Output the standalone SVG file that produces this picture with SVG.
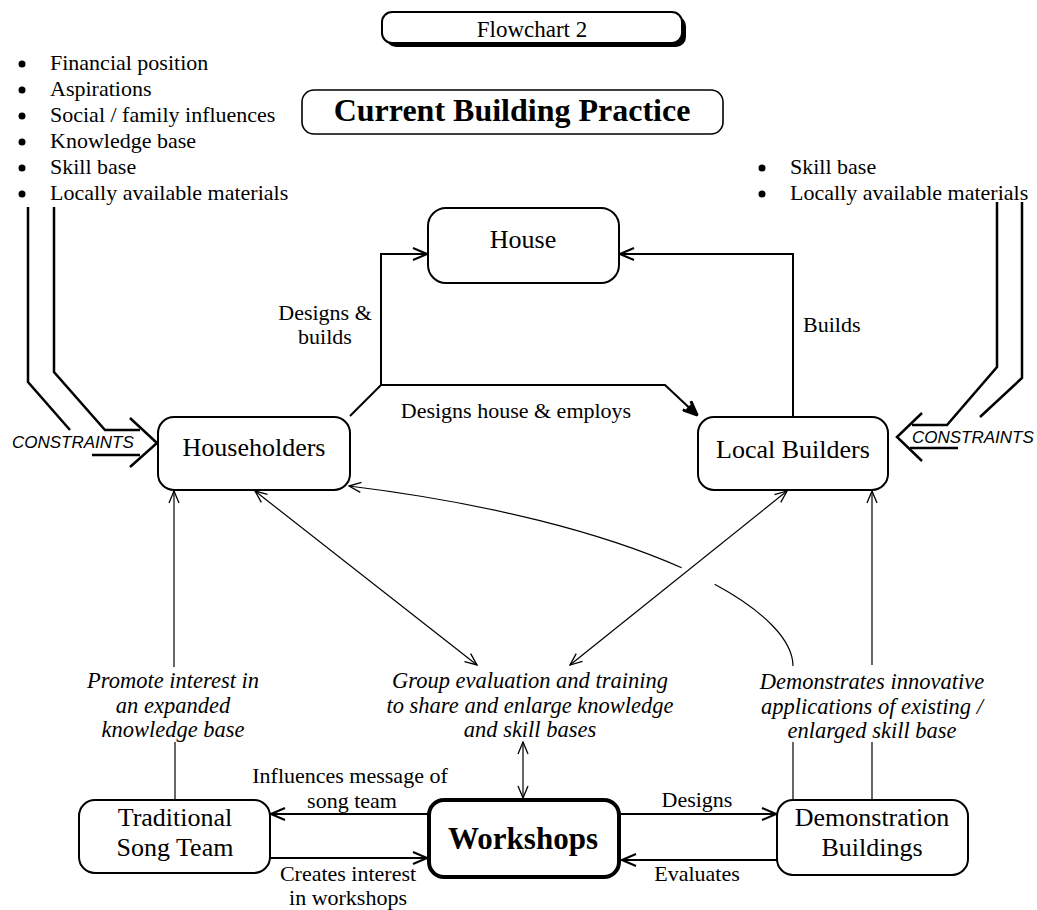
<svg xmlns="http://www.w3.org/2000/svg" width="1037" height="910" viewBox="0 0 1037 910">
<style>
  .t{font-family:"Liberation Serif","Times New Roman",serif;fill:#000}
  .lbl{font-size:22px}
  .node{font-size:26px}
  .it{font-style:italic;font-size:22.5px}
  .box{fill:#fff;stroke:#000;stroke-width:2}
  .thin{fill:none;stroke:#000;stroke-width:1.2}
  .thick{fill:none;stroke:#000;stroke-width:2}
  .con{fill:none;stroke:#000;stroke-width:2.5}
  .cons{font-family:"Liberation Sans",Arial,sans-serif;font-style:italic;font-size:17px;fill:#000}
  .mid{text-anchor:middle}
</style>
<defs>
  <marker id="a" viewBox="0 0 14 12" refX="13" refY="6" markerWidth="14" markerHeight="12" markerUnits="userSpaceOnUse" orient="auto-start-reverse">
    <path d="M1,1 L13,6 L1,11" fill="none" stroke="#000" stroke-width="1.3"/>
  </marker>
  <marker id="b" viewBox="0 0 16 14" refX="15" refY="7" markerWidth="16" markerHeight="14" markerUnits="userSpaceOnUse" orient="auto">
    <path d="M1,1 L15,7 L1,13" fill="none" stroke="#000" stroke-width="2"/>
  </marker>
  <marker id="c" viewBox="0 0 16 14" refX="15" refY="7" markerWidth="16" markerHeight="14" markerUnits="userSpaceOnUse" orient="auto">
    <path d="M1,1 L15,7 L1,13 M3,5 L15,7 L3,9" fill="none" stroke="#000" stroke-width="3"/>
  </marker>
</defs>
<rect width="1037" height="910" fill="#fff"/>

<g id="title">
  <rect x="386" y="16" width="300" height="31" rx="10" fill="#000"/>
  <rect x="382" y="12" width="300" height="31" rx="10" class="box"/>
  <text x="532" y="37" class="t mid" font-size="23">Flowchart 2</text>
</g>

<g id="heading">
  <rect x="302" y="90" width="421" height="44" rx="12" fill="#fff" stroke="#000" stroke-width="1.6"/>
  <text x="512" y="121" class="t mid" font-size="32" font-weight="bold">Current Building Practice</text>
</g>

<g id="left-factors">
  <g fill="#000">
    <circle cx="22" cy="64" r="3.5"/><circle cx="22" cy="90" r="3.5"/><circle cx="22" cy="116" r="3.5"/>
    <circle cx="22" cy="142" r="3.5"/><circle cx="22" cy="168" r="3.5"/><circle cx="22" cy="194" r="3.5"/>
  </g>
  <text class="t lbl" x="50" y="70">Financial position</text>
  <text class="t lbl" x="50" y="96">Aspirations</text>
  <text class="t lbl" x="50" y="122">Social / family influences</text>
  <text class="t lbl" x="50" y="148">Knowledge base</text>
  <text class="t lbl" x="50" y="174">Skill base</text>
  <text class="t lbl" x="50" y="200">Locally available materials</text>
</g>

<g id="right-factors">
  <g fill="#000">
    <circle cx="762" cy="168" r="3.5"/><circle cx="762" cy="194" r="3.5"/>
  </g>
  <text class="t lbl" x="790" y="174">Skill base</text>
  <text class="t lbl" x="790" y="200">Locally available materials</text>
</g>

<g id="constraints-left">
  <path class="con" d="M28,207 V382 L70,430"/>
  <path class="con" d="M54,207 V372 L105,430 H140"/>
  <path class="con" d="M130,418 L157,443 L130,467"/>
  <path class="con" d="M92,455 H140"/>
  <text class="cons" x="12" y="448">CONSTRAINTS</text>
</g>

<g id="constraints-right">
  <path class="con" d="M1022,202 V378 L980,417"/>
  <path class="con" d="M997,202 V367 L947,425 H912"/>
  <path class="con" d="M922,413 L897,437 L922,461"/>
  <path class="con" d="M910,448 H958"/>
  <text class="cons" x="912" y="443">CONSTRAINTS</text>
</g>

<g id="connectors">
  <path class="thick" d="M381,385 V254 H427" marker-end="url(#b)"/>
  <path class="thick" d="M350,416 L381,385 H665 L697,415" marker-end="url(#c)"/>
  <path class="thick" d="M793,417 V254 H620" marker-end="url(#b)"/>

  <path class="thin" d="M174,667 V491" marker-end="url(#a)"/>
  <path class="thin" d="M175,742 V800"/>
  <path class="thin" d="M255,491 L477,665" marker-start="url(#a)" marker-end="url(#a)"/>
  <path class="thin" d="M570,665 L787,491" marker-start="url(#a)" marker-end="url(#a)"/>
  <path class="thin" d="M872,665 V491" marker-end="url(#a)"/>
  <path class="thin" d="M793,666 C793,640.8 765.3,611.7 714.7,584.3"/>
  <path class="thin" d="M681.6,567.8 C604.1,533.3 489.4,503.2 349,486" marker-end="url(#a)"/>
  <path class="thin" d="M793,742 V800"/>
  <path class="thin" d="M872,742 V800"/>
  <path class="thin" d="M523,742 V798" marker-start="url(#a)" marker-end="url(#a)"/>

  <path class="thick" d="M428,814 H271" marker-end="url(#b)"/>
  <path class="thick" d="M270,858 H427" marker-end="url(#b)"/>
  <path class="thick" d="M621,814 H776" marker-end="url(#b)"/>
  <path class="thick" d="M777,860 H622" marker-end="url(#b)"/>
</g>

<g id="labels">
  <text class="t lbl mid" x="325" y="320">Designs &amp;</text>
  <text class="t lbl mid" x="325" y="344">builds</text>
  <text class="t lbl" x="803" y="332">Builds</text>
  <text class="t lbl mid" x="516" y="418">Designs house &amp; employs</text>

  <text class="t it mid" x="173" y="688">Promote interest in</text>
  <text class="t it mid" x="173" y="713">an expanded</text>
  <text class="t it mid" x="173" y="737">knowledge base</text>

  <text class="t it mid" x="530" y="688">Group evaluation and training</text>
  <text class="t it mid" x="530" y="713">to share and enlarge knowledge</text>
  <text class="t it mid" x="530" y="737">and skill bases</text>

  <text class="t it mid" x="872" y="689">Demonstrates innovative</text>
  <text class="t it mid" x="872" y="714">applications of existing /</text>
  <text class="t it mid" x="872" y="738">enlarged skill base</text>

  <text class="t lbl mid" x="350" y="783">Influences message of</text>
  <text class="t lbl mid" x="352" y="808">song team</text>
  <text class="t lbl mid" x="348" y="881">Creates interest</text>
  <text class="t lbl mid" x="348" y="905">in workshops</text>
  <text class="t lbl mid" x="697" y="807">Designs</text>
  <text class="t lbl mid" x="697" y="881">Evaluates</text>
</g>

<g id="house">
  <rect x="428" y="208" width="191" height="75" rx="18" class="box"/>
  <text class="t node mid" x="523" y="248">House</text>
</g>
<g id="householders">
  <rect x="158" y="417" width="192" height="73" rx="16" class="box"/>
  <text class="t node mid" x="254" y="456">Householders</text>
</g>
<g id="local-builders">
  <rect x="698" y="417" width="190" height="73" rx="16" class="box"/>
  <text class="t node mid" x="793" y="458">Local Builders</text>
</g>
<g id="song-team">
  <rect x="79" y="800" width="191" height="73" rx="16" class="box"/>
  <text class="t node mid" x="175" y="826">Traditional</text>
  <text class="t node mid" x="175" y="856">Song Team</text>
</g>
<g id="workshops">
  <rect x="429" y="800" width="190" height="77" rx="15" fill="#fff" stroke="#000" stroke-width="4"/>
  <text class="t mid" x="523" y="849" font-size="31" font-weight="bold">Workshops</text>
</g>
<g id="demo-buildings">
  <rect x="777" y="800" width="191" height="75" rx="16" class="box"/>
  <text class="t node mid" x="872" y="826">Demonstration</text>
  <text class="t node mid" x="872" y="856">Buildings</text>
</g>
</svg>
